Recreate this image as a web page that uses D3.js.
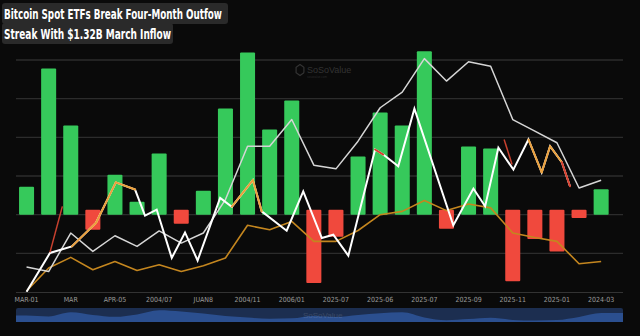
<!DOCTYPE html>
<html>
<head>
<meta charset="utf-8">
<script src="https://cdn.jsdelivr.net/npm/d3@7/dist/d3.min.js"></script>
<style>
  html, body { margin: 0; padding: 0; background: #0a0a0a; }
  svg { display: block; }
</style>
</head>
<body>
<svg id="chart" width="640" height="336"></svg>
<script>
// Monthly net flow (USD billions), one bar per month
const months = d3.range(27);
const netFlow = [1.45, 7.56, 4.61, -0.78, 2.07, 0.67, 3.16, -0.47, 1.24, 5.49, 8.39, 4.40, 5.91,
  -3.54, -1.14, 3.01, 5.28, 4.61, 8.45, -0.73, 3.52, 3.42, -3.45, -1.26, -1.90, -0.17, 1.32];

// Smooth reference line (one point per month)
const trendSeries = [-2.71, -2.94, -0.95, -1.90, -1.09, -1.64, -0.84, -1.47, -0.95, 0.78, 3.54, 3.54, 4.92,
  2.56, 2.37, 3.80, 5.53, 6.34, 8.07, 6.91, 7.91, 7.68, 4.92, 4.32, 3.72, 1.38, 1.78];

// Lower reference line (one point per month)
const baseSeries = [-3.95, -2.76, -2.21, -2.85, -2.42, -2.89, -2.59, -2.94, -2.64, -2.24, -0.55, -0.78, -0.35,
  -1.38, -1.38, -0.82, 0.00, 0.17, 0.73, 0.21, 0.55, 0.35, -0.95, -1.18, -1.38, -2.54, -2.42];

// Volatile line: position in months and value
const swingT = [0, 1.06, 2.05, 3.14, 4.04, 4.91, 5.36, 5.89, 6.57, 7.17, 7.74, 8.76, 9.29, 10.24, 10.64,
  11.77, 12.52, 13.36, 13.88, 14.56, 15.77, 16.14, 16.82, 17.55, 19.31, 20.22, 20.75, 21.35, 22.03,
  22.71, 23.31, 23.69, 24.22, 24.59];
const swingV = [-3.99, -1.98, -1.64, -0.43, 1.67, 1.30, -0.05, 0.26, -2.24, -0.92, -2.37, 0.87, 0.41, 1.79,
  0.17, -0.83, 1.21, -1.21, -1.04, -2.12, 3.37, 3.11, 2.50, 5.48, -0.55, 1.35, 0.43, 3.46, 2.33, 3.89,
  2.19, 3.54, 2.71, 1.47];
// Tone of each segment between consecutive swing points: w = neutral, o = rising, r = falling
const swingTone = ["w","w","o","o","o","w","w","w","w","w","w","w","o","o","w","w","w","w","w",
  "w","r","w","w","w","w","w","w","w","w","o","o","o","r"];

// Short falling strokes drawn over the volatile line
const dropStrokes = [
  { t: [1.06, 1.62], v: [-1.95, 0.43] },
  { t: [21.61, 21.97], v: [3.89, 2.59] }
];

// Overview strip beneath the chart (relative level)
const overview = [0.46, 0.39, 0.69, 0.50, 0.37, 0.54, 0.84, 0.75, 0.60, 0.43, 0.32, 0.23, 0.26, 0.43,
  0.36, 0.50, 0.62, 0.69, 0.32, 0.12, 0.21, 0.30, 0.15, 0.11, 0.14, 0.36, 0.64];

const tickLabels = ["MAR-01", "MAR", "APR-05", "2004/07", "JUAN8", "2004/11", "2006/01",
  "2025-07", "2025-06", "2025-07", "2025-09", "2025-11", "2025-01", "2024-03"];
const gridValues = [-2, 0, 2, 4, 6, 8];

const titleLines = ["Bitcoin Spot ETFs Break Four-Month Outfow", "Streak With $1.32B March Inflow"];

// ---- layout ----
const svg = d3.select("#chart");
const W = 640, H = 336;
const plot = { left: 16, right: 623, top: 40, bottom: 292 };

svg.append("rect").attr("width", W).attr("height", H).attr("fill", "#0a0a0a");

const x = d3.scaleBand().domain(months).range([15.5, 612.2]).paddingInner(0.32).paddingOuter(0.16);
const xc = d3.scaleLinear().domain([0, 26])
  .range([x(0) + x.bandwidth() / 2, x(26) + x.bandwidth() / 2]);
const y = d3.scaleLinear().domain([-4, 8]).range([plot.bottom, 60]);

// grid
svg.append("g").selectAll("line").data(gridValues).join("line")
  .attr("x1", plot.left).attr("x2", plot.right)
  .attr("y1", d => y(d)).attr("y2", d => y(d))
  .attr("stroke", "#2c2c2c").attr("stroke-width", 1.4);

// watermark
const wm = svg.append("g").attr("opacity", 0.55);
wm.append("path")
  .attr("d", d3.line()(d3.range(7).map(k => {
    const a = Math.PI / 3 * k + Math.PI / 6;
    return [300 + 4.5 * Math.cos(a), 70 + 5.5 * Math.sin(a)];
  })))
  .attr("fill", "none").attr("stroke", "#555").attr("stroke-width", 1.2);
wm.append("text").attr("x", 307).attr("y", 72.5).text("SoSoValue")
  .attr("font-family", "'Liberation Sans', Arial, sans-serif").attr("font-size", 9)
  .attr("fill", "#555");
wm.append("text").attr("x", 307).attr("y", 77.5).text("sosovalue.com")
  .attr("font-family", "'Liberation Sans', Arial, sans-serif").attr("font-size", 3)
  .attr("fill", "#444");

// bars
const NEG_LIFT = 5;
svg.append("g").selectAll("rect").data(months).join("rect")
  .attr("x", i => x(i))
  .attr("width", x.bandwidth())
  .attr("y", i => netFlow[i] >= 0 ? y(netFlow[i]) : y(0) - NEG_LIFT)
  .attr("height", i => netFlow[i] >= 0 ? y(0) - y(netFlow[i]) : y(netFlow[i]) - y(0) + NEG_LIFT)
  .attr("rx", 1)
  .attr("fill", i => netFlow[i] >= 0 ? "#36c95b" : "#f0493d");

// lines clipped to the plot area
svg.append("clipPath").attr("id", "plotClip").append("rect")
  .attr("x", plot.left).attr("y", plot.top)
  .attr("width", plot.right - plot.left).attr("height", plot.bottom - plot.top);
const lines = svg.append("g").attr("clip-path", "url(#plotClip)");

const monthLine = d3.line().x((d, i) => xc(i)).y(d => y(d));

lines.append("path").attr("d", monthLine(baseSeries))
  .attr("fill", "none").attr("stroke", "#c4861f").attr("stroke-width", 1.6)
  .attr("stroke-linejoin", "round");

lines.append("path").attr("d", monthLine(trendSeries))
  .attr("fill", "none").attr("stroke", "#d6d6d6").attr("stroke-width", 1.5)
  .attr("stroke-linejoin", "round");

const toneColor = { w: "#ffffff", o: "#eba03c", r: "#d8412f" };
const segs = swingTone.map((tone, k) => ({ tone, k }));
// neutral segments first as one path, colored ones on top
lines.append("path")
  .attr("d", d3.line().x(k => xc(swingT[k])).y(k => y(swingV[k]))(d3.range(swingT.length)))
  .attr("fill", "none").attr("stroke", "#ffffff").attr("stroke-width", 2)
  .attr("stroke-linejoin", "miter");
lines.append("g").selectAll("line").data(segs.filter(s => s.tone !== "w")).join("line")
  .attr("x1", s => xc(swingT[s.k])).attr("y1", s => y(swingV[s.k]))
  .attr("x2", s => xc(swingT[s.k + 1])).attr("y2", s => y(swingV[s.k + 1]))
  .attr("stroke", s => toneColor[s.tone]).attr("stroke-width", 2).attr("stroke-linecap", "round");
lines.append("g").selectAll("line").data(dropStrokes).join("line")
  .attr("x1", d => xc(d.t[0])).attr("y1", d => y(d.v[0]))
  .attr("x2", d => xc(d.t[1])).attr("y2", d => y(d.v[1]))
  .attr("stroke", "#c8412f").attr("stroke-width", 1.5);

// x axis
svg.append("line").attr("x1", plot.left).attr("x2", plot.right)
  .attr("y1", plot.bottom + 0.5).attr("y2", plot.bottom + 0.5)
  .attr("stroke", "#333").attr("stroke-width", 1.2);
const axis = d3.axisBottom(x)
  .tickValues(months.filter(i => i % 2 === 0))
  .tickFormat(i => tickLabels[i / 2])
  .tickSize(0).tickPadding(5);
const ax = svg.append("g").attr("transform", `translate(0,${plot.bottom})`).call(axis);
ax.select(".domain").remove();
ax.selectAll("text")
  .attr("fill", "#9a9a9a")
  .attr("font-family", "'Liberation Sans Narrow', 'DejaVu Sans Condensed', sans-serif")
  .attr("font-size", 7);

// overview strip
const nav = { top: 308, bottom: 322 };
svg.append("rect").attr("x", plot.left).attr("y", nav.top)
  .attr("width", plot.right - plot.left).attr("height", nav.bottom - nav.top)
  .attr("rx", 2).attr("fill", "#1c2e50");
const navY = d3.scaleLinear().domain([0, 1]).range([nav.bottom, nav.top]);
const navPts = [[plot.left, overview[0]]]
  .concat(overview.map((v, i) => [xc(i), v]))
  .concat([[plot.right, overview[overview.length - 1]]]);
svg.append("path")
  .attr("d", d3.area().x(d => d[0]).y0(nav.bottom).y1(d => navY(d[1])).curve(d3.curveMonotoneX)(navPts))
  .attr("fill", "#2b4f8f");
svg.append("text").attr("x", 303).attr("y", 318).text("SoSoValue")
  .attr("font-family", "'Liberation Sans', Arial, sans-serif").attr("font-size", 8)
  .attr("fill", "#ffffff").attr("opacity", 0.12);

// title
const title = svg.append("g");
title.append("rect").attr("x", 2).attr("y", 3).attr("width", 226).attr("height", 21)
  .attr("rx", 3).attr("fill", "#2a2a2a");
title.append("rect").attr("x", 2).attr("y", 23).attr("width", 171).attr("height", 21)
  .attr("rx", 3).attr("fill", "#2a2a2a");
const titleLen = [218, 167];
title.selectAll("text").data(titleLines).join("text")
  .attr("x", 4).attr("y", (d, i) => 19 + i * 20)
  .attr("textLength", (d, i) => titleLen[i])
  .attr("lengthAdjust", "spacingAndGlyphs")
  .attr("font-family", "'Liberation Sans Narrow', 'DejaVu Sans Condensed', Roboto, sans-serif")
  .attr("font-weight", "bold").attr("font-size", 14.5)
  .attr("fill", "#ffffff")
  .text(d => d);
</script>
</body>
</html>
